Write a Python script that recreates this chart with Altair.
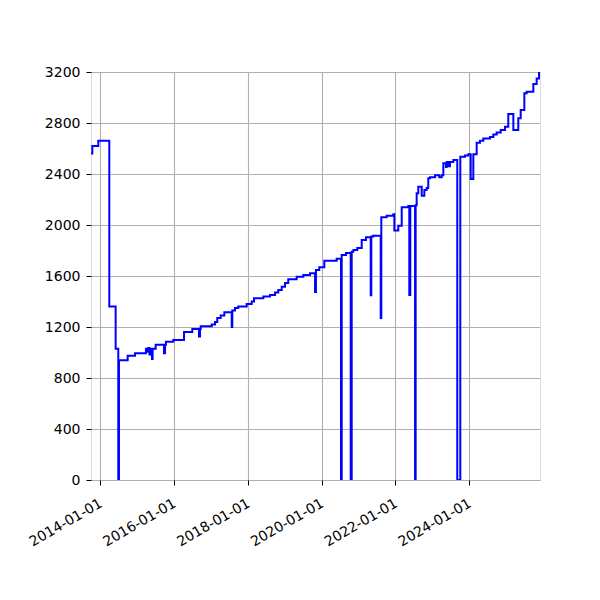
import altair as alt
import pandas as pd

dates = [
    "2013-10-01", "2013-10-14", "2013-12-12", "2014-03-31", "2014-06-02", "2014-06-28",
    "2014-07-05", "2014-09-29", "2014-12-11", "2015-03-29", "2015-04-13", "2015-04-21",
    "2015-05-03", "2015-05-11", "2015-05-28", "2015-06-03", "2015-07-03", "2015-09-24",
    "2015-10-04", "2015-10-13", "2015-12-25", "2016-04-09", "2016-06-30", "2016-09-04",
    "2016-09-14", "2016-09-21", "2017-01-08", "2017-02-10", "2017-03-04", "2017-04-07",
    "2017-05-13", "2017-07-25", "2017-07-31", "2017-08-27", "2017-09-28", "2017-12-20",
    "2018-02-08", "2018-03-03", "2018-06-03", "2018-08-08", "2018-09-27", "2018-10-29",
    "2018-12-02", "2019-01-04", "2019-02-05", "2019-04-29", "2019-07-04", "2019-09-08",
    "2019-10-28", "2019-11-06", "2019-12-09", "2020-01-28", "2020-05-29", "2020-07-11",
    "2020-07-18", "2020-08-29", "2020-10-15", "2020-10-25", "2020-11-10", "2020-12-19",
    "2021-02-01", "2021-03-15", "2021-05-01", "2021-05-07", "2021-05-27", "2021-08-08",
    "2021-08-14", "2021-10-06", "2021-12-11", "2021-12-21", "2022-01-29", "2022-03-04",
    "2022-05-08", "2022-05-18", "2022-05-28", "2022-07-14", "2022-07-20", "2022-07-30",
    "2022-08-15", "2022-09-18", "2022-10-14", "2022-11-06", "2022-11-22", "2022-12-09",
    "2023-01-28", "2023-03-11", "2023-04-04", "2023-04-20", "2023-05-16", "2023-05-23",
    "2023-06-08", "2023-06-25", "2023-07-28", "2023-09-05", "2023-10-05", "2023-11-20",
    "2023-12-23", "2024-01-16", "2024-02-11", "2024-03-15", "2024-04-17", "2024-05-20",
    "2024-07-25", "2024-08-27", "2024-09-29", "2024-11-08", "2024-12-21", "2025-01-22",
    "2025-03-13", "2025-05-01", "2025-05-25", "2025-06-30", "2025-07-23", "2025-09-27",
    "2025-10-30", "2025-11-22", "2025-12-02",
]
values = [
    2560, 2620, 2660, 1360, 1030, 0,
    940, 975, 995, 1030, 1005, 1035,
    985, 1030, 950, 1030, 1060, 995,
    1060, 1085, 1098, 1160, 1185, 1125,
    1185, 1205, 1220, 1240, 1270, 1290,
    1315, 1200, 1330, 1350, 1360, 1380,
    1400, 1425, 1440, 1451, 1470, 1490,
    1516, 1545, 1575, 1595, 1608, 1622,
    1475, 1648, 1668, 1720, 1735, 0,
    1765, 1780, 0, 1790, 1804, 1820,
    1882, 1903, 1450, 1910, 1915, 1270,
    2060, 2072, 2085, 1956, 1995, 2140,
    2150, 1451, 2150, 0, 2155, 2250,
    2300, 2230, 2275, 2290, 2366, 2375,
    2390, 2375, 2390, 2484, 2455, 2495,
    2460, 2495, 2510, 0, 2536, 2545,
    2554, 2361, 2554, 2646, 2660, 2678,
    2690, 2710, 2725, 2745, 2771, 2871,
    2745, 2837, 2902, 3033, 3045, 3106,
    3150, 3195, 3195,
]

df = pd.DataFrame({"date": dates, "value": values})

tick_years = [2014, 2016, 2018, 2020, 2022, 2024]
y_ticks = [0, 400, 800, 1200, 1600, 2000, 2400, 2800, 3200]

x_axis = alt.Axis(
    values=[alt.DateTime(year=y, month=1, date=1, utc=True) for y in tick_years],
    format="%Y-%m-%d",
    labelAngle=-30,
    labelAlign="right",
    labelBaseline="top",
    labelOverlap=False,
    title=None,
    grid=True,
    gridColor="#b0b0b0",
    gridWidth=1.1,
    domain=False,
    tickColor="black",
    tickSize=5,
    labelFont="DejaVu Sans",
    labelFontSize=14,
    labelColor="black",
    labelPadding=11,
    labelOffset=-3,
)
y_axis = alt.Axis(
    values=y_ticks,
    format="d",
    labelOverlap=False,
    title=None,
    grid=True,
    gridColor="#b0b0b0",
    gridWidth=1.1,
    domain=False,
    tickColor="black",
    tickSize=5,
    labelFont="DejaVu Sans",
    labelFontSize=14,
    labelColor="black",
    labelPadding=6,
)

chart = (
    alt.Chart(df)
    .mark_line(interpolate="step-after", color="blue", strokeWidth=2, clip=True)
    .encode(
        x=alt.X(
            "date:T",
            scale=alt.Scale(
                type="utc",
                domain=[
                    alt.DateTime(year=2013, month=10, date=1, utc=True),
                    alt.DateTime(year=2025, month=12, date=2, utc=True),
                ],
                nice=False,
            ),
            axis=x_axis,
        ),
        y=alt.Y(
            "value:Q",
            scale=alt.Scale(domain=[0, 3200], nice=False, zero=True),
            axis=y_axis,
        ),
    )
    .properties(
        width=449,
        height=408,
        autosize=alt.AutoSizeParams(type="none"),
        padding={"left": 83, "top": 64, "right": 50, "bottom": 100},
    )
    .configure_view(stroke="black", strokeWidth=1.1)
    .configure(background="white")
)

chart.save("out.html", embed_options={"renderer": "svg", "actions": False})
